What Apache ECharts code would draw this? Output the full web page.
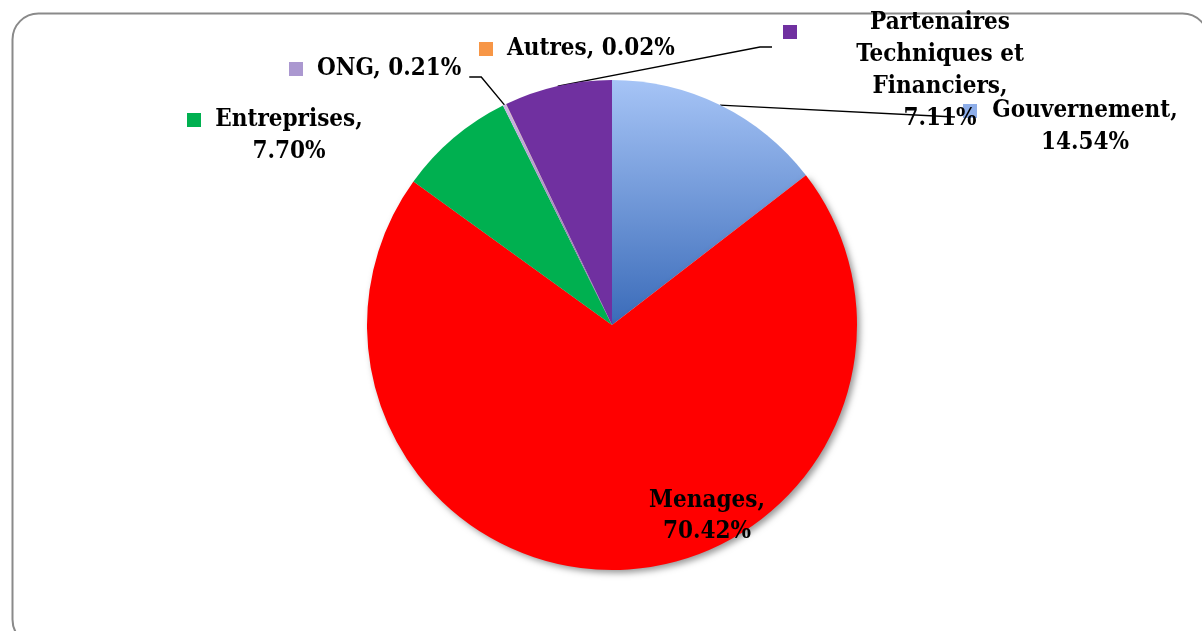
<!DOCTYPE html>
<html><head><meta charset="utf-8">
<script src="https://cdn.jsdelivr.net/npm/echarts@6/dist/echarts.min.js"></script>
<style>html,body{margin:0;padding:0;background:#fff}#c{width:1202px;height:631px}</style>
</head><body><div id="c"></div>
<script>
// ---- data ----
const categories = ['Gouvernement', 'Menages', 'Entreprises', 'ONG', 'Autres', 'Partenaires Techniques et Financiers'];
const values = [14.54, 70.42, 7.70, 0.21, 0.02, 7.11];
// word index after which a label line break occurs
const labelBreaks = [[0], [0], [0], [], [], [0, 2, 3]];

// ---- styles ----
const FONT = "'DejaVu Serif Condensed', 'DejaVu Serif', serif";
const grad = (a, b) => new echarts.graphic.LinearGradient(0, 0, 0, 1, [{offset: 0, color: a}, {offset: 1, color: b}]);
const fills = [grad('#a6c4f6', '#3a6bb9'), '#ff0000', '#00b050', grad('#c9b8e4', '#7a5ca0'), grad('#fbb07a', '#e47a30'), '#7030a0'];
const keyColors = ['#8eaee9', null, '#00b050', '#ab98d0', '#f79646', '#7030a0'];
const layouts = [
  {x: 963, y: 95, w: 188, line: true},
  {x: 707, y: 485, align: 'center'},
  {x: 187, y: 104, w: 148},
  {x: 289, y: 53, line: true},
  {x: 479, y: 33},
  {x: 783, y: 7, w: 258, line: true, keyBottom: true}
];

function labelLinesFor(i) {
  const words = (categories[i] + ', ' + values[i].toFixed(2) + '%').split(' ');
  const lines = []; let cur = [];
  words.forEach((w, k) => { cur.push(w); if (labelBreaks[i].indexOf(k) >= 0) { lines.push(cur.join(' ')); cur = []; } });
  if (cur.length) lines.push(cur.join(' '));
  return lines;
}

const data = categories.map((name, i) => {
  const L = layouts[i];
  const rich = {
    k: {width: 14, height: 14, lineHeight: 32, backgroundColor: keyColors[i] || 'transparent', verticalAlign: L.keyBottom ? 'bottom' : 'middle'},
    e: {width: 14, height: 14, lineHeight: 32},
    s: {width: 14, lineHeight: 32},
    t: {fontFamily: FONT, fontWeight: 'bold', fontSize: 24, color: '#000', lineHeight: 31, align: (L.w || L.align === 'center') ? 'center' : 'left', width: L.w}
  };
  return {
    name, value: values[i],
    itemStyle: Object.assign({color: fills[i]}, i === 1 ? {shadowBlur: 6, shadowOffsetX: 3, shadowOffsetY: 3, shadowColor: 'rgba(0,0,0,0.4)'} : {}),
    labelLine: {show: !!L.line, lineStyle: {color: '#000', width: 1.4}},
    label: {
      rich,
      formatter: () => labelLinesFor(i).map((ln, j) => {
        if (L.align === 'center') return '{t|' + ln + '}';
        return (j === 0 ? '{k|}' : '{e|}') + '{s|}' + '{t|' + ln + '}';
      }).join('\n')
    }
  };
});

const chart = echarts.init(document.getElementById('c'), null, {renderer: 'canvas'});
chart.setOption({
  animation: false,
  backgroundColor: '#fff',
  graphic: [{type: 'rect', left: 10, top: 11, shape: {width: 1196, height: 632, r: 26}, style: {fill: 'none', stroke: '#8a8a8a', lineWidth: 2}, z: -1}],
  series: [{
    type: 'pie',
    center: [612, 325],
    radius: 245,
    startAngle: 90,
    clockwise: true,
    avoidLabelOverlap: false,
    data,
    label: {show: true, position: 'outside'},
    labelLine: {length: 10, length2: 10},
    labelLayout: function (params) {
      const L = layouts[params.dataIndex];
      const res = {x: L.x, y: L.y, align: L.align || 'left', verticalAlign: 'top'};
      const p = params.labelLinePoints;
      if (L.line && p) {
        const p0 = p[0];
        const i = params.dataIndex;
        if (i === 0) res.labelLinePoints = [p0, [L.x - 8, L.y + 22]];
        else if (i === 3) { const xr = L.x + params.labelRect.width; res.labelLinePoints = [p0, [xr + 20, L.y + 24], [xr + 8, L.y + 24]]; }
        else if (i === 5) res.labelLinePoints = [p0, [L.x - 23, L.y + 40], [L.x - 11, L.y + 40]];
      }
      return res;
    }
  }]
});
</script></body></html>
